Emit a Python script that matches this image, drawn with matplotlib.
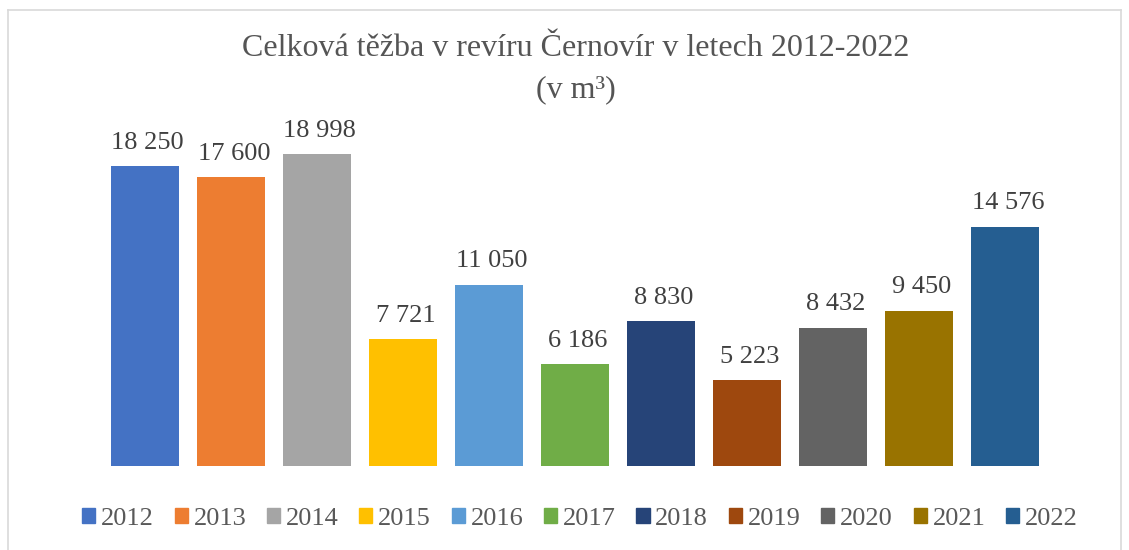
import matplotlib
matplotlib.use('Agg')
import matplotlib.pyplot as plt
from matplotlib.lines import Line2D

# data
years = ['2012', '2013', '2014', '2015', '2016', '2017', '2018', '2019', '2020', '2021', '2022']
values = [18250, 17600, 18998, 7721, 11050, 6186, 8830, 5223, 8432, 9450, 14576]
colors = ['#4472C4', '#ED7D31', '#A5A5A5', '#FFC000', '#5B9BD5', '#70AD47',
          '#264478', '#9E480E', '#636363', '#997300', '#255E91']

plt.rcParams['font.family'] = ['Liberation Serif', 'DejaVu Serif']

W, H = 1129, 550
fig = plt.figure(figsize=(W / 100, H / 100), dpi=100)

# plot area placed in pixel terms
left, right, top, bottom = 102, 1048, 137.6, 466
ax = fig.add_axes([left / W, 1 - bottom / H, (right - left) / W, (bottom - top) / H])

x = range(len(years))
ax.bar(x, values, width=0.79, color=colors, label=years)
ax.set_xlim(-0.5, len(years) - 0.5)
ax.set_ylim(0, 20000)
ax.axis('off')

for xi, v in zip(x, values):
    ax.annotate(f'{v:,}'.replace(',', ' '), (xi, v), xytext=(2, 9),
                textcoords='offset points', ha='center', va='bottom',
                fontsize=19, color='#404040')

# title
fig.text(0.51, 1 - 49 / H, 'Celková těžba v revíru Černovír v letech 2012-2022',
         ha='center', va='center', fontsize=23, color='#555555')
fig.text(0.51, 1 - 90 / H, '(v m³)', ha='center', va='center',
         fontsize=23, color='#555555')

# legend with small square markers
handles = [plt.Rectangle((0, 0), 1, 1, color=c) for c in colors]
fig.legend(handles, years, loc='center', bbox_to_anchor=(580 / W, 1 - 519 / H),
           ncol=len(years), frameon=False, fontsize=19, labelcolor='#595959',
           handlelength=0.5, handleheight=0.5, handletextpad=0.22,
           columnspacing=0.78, borderaxespad=0)

# light outer border of the chart area
bx0, bx1, by0 = 8 / W, 1121 / W, 1 - 10 / H
for xs, ys in [([bx0, bx0], [0, by0]), ([bx0, bx1], [by0, by0]), ([bx1, bx1], [by0, 0])]:
    fig.add_artist(Line2D(xs, ys, color='#D9D9D9', lw=1.2, transform=fig.transFigure))

fig.savefig('out.png', dpi=100)
